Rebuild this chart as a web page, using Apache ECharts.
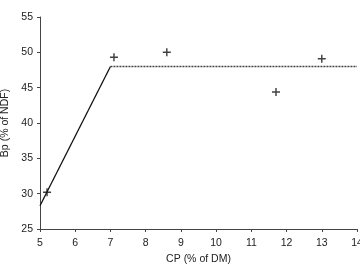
<!DOCTYPE html>
<html>
<head>
<meta charset="utf-8">
<script src="https://cdn.jsdelivr.net/npm/echarts@6/dist/echarts.min.js"></script>
<style>
  html, body { margin: 0; padding: 0; background: #fff; }
  #chart { width: 360px; height: 264px; }
</style>
</head>
<body>
<div id="chart"></div>
<script>
  // observed points
  var obsX = [5.2, 7.1, 8.6, 11.7, 13.0];
  var obsY = [30.2, 49.3, 50.0, 44.4, 49.1];

  // broken-line fit: rising part and plateau
  var riseX = [5, 7];
  var riseY = [28.3, 48];
  var flatX = [7, 14];
  var flatY = [48, 48];

  var xTicks = [5, 6, 7, 8, 9, 10, 11, 12, 13, 14];
  var yTicks = [25, 30, 35, 40, 45, 50, 55];

  function pairs(xs, ys) {
    return xs.map(function (x, i) { return [x, ys[i]]; });
  }

  var font = 'Liberation Sans, Arial, sans-serif';
  var plus = 'path://M4.1,0H5.9V4.1H10V5.9H5.9V10H4.1V5.9H0V4.1H4.1Z';

  var chart = echarts.init(document.getElementById('chart'));

  chart.setOption({
    animation: false,
    grid: { left: 40, right: 3, top: 17, bottom: 35, outerBoundsMode: 'none' },
    xAxis: {
      type: 'value',
      min: xTicks[0],
      max: xTicks[xTicks.length - 1],
      interval: 1,
      name: 'CP (% of DM)',
      nameLocation: 'middle',
      nameGap: 22,
      nameTextStyle: { fontFamily: font, fontSize: 10.5, color: '#222' },
      splitLine: { show: false },
      axisLine: { lineStyle: { color: '#444', width: 1 } },
      axisTick: { length: 3, lineStyle: { color: '#444' } },
      axisLabel: { fontFamily: font, fontSize: 10.5, color: '#222', margin: 9 }
    },
    yAxis: {
      type: 'value',
      min: yTicks[0],
      max: yTicks[yTicks.length - 1],
      interval: 5,
      name: 'Bp (% of NDF)',
      nameLocation: 'middle',
      nameGap: 25,
      nameRotate: 90,
      nameTextStyle: { fontFamily: font, fontSize: 10.5, color: '#222' },
      splitLine: { show: false },
      axisLine: { show: true, lineStyle: { color: '#444', width: 1 } },
      axisTick: { show: true, length: 3, lineStyle: { color: '#444' } },
      axisLabel: { fontFamily: font, fontSize: 10.5, color: '#222', margin: 7 }
    },
    series: [
      {
        type: 'line',
        data: pairs(riseX, riseY),
        symbol: 'none',
        lineStyle: { color: '#111', width: 1.3 }
      },
      {
        type: 'line',
        data: pairs(flatX, flatY),
        symbol: 'none',
        lineStyle: { color: '#444', width: 1.4, type: [2, 1] }
      },
      {
        type: 'scatter',
        data: pairs(obsX, obsY),
        symbol: plus,
        symbolSize: 8,
        itemStyle: { color: '#111' }
      }
    ]
  });
</script>
</body>
</html>
